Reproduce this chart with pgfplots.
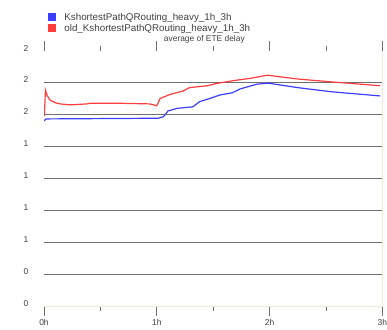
\documentclass[border=0pt]{standalone}
\usepackage{pgfplots}
\pgfplotsset{compat=1.18}
\usepackage{fontspec}
\setmainfont{Liberation Sans}
\definecolor{sblue}{RGB}{61,61,255}
\definecolor{sred}{RGB}{255,61,61}
\definecolor{gridc}{RGB}{112,112,112}
\definecolor{beige}{RGB}{236,233,216}
\definecolor{txt}{RGB}{64,64,64}
\begin{document}
\begin{tikzpicture}
\useasboundingbox (0,0) rectangle (387pt,329pt);
\begin{axis}[
  at={(44pt,23pt)}, anchor=south west,
  scale only axis, width=338.3pt, height=255.4pt,
  xmin=0, xmax=3, ymin=0, ymax=8,
  axis line style={draw=none},
  xtick={0,1,2,3}, xticklabels={0h,1h,2h,3h},
  minor x tick num=1,
  tick align=outside,
  xtick style={color=gridc, line width=0.6pt},
  major tick length=10pt, minor tick length=5pt,
  ytick={0,...,8}, yticklabels={0,0,1,1,1,1,2,2,2},
  ytick style={draw=none},
  extra y ticks={1,...,7}, extra y tick labels={},
  extra y tick style={grid=major, major grid style={color=gridc, line width=0.8pt}},
  ticklabel style={font=\fontsize{8.5}{9}\selectfont, text=txt},
  yticklabel style={xshift=-2pt, yshift=2.5pt},
  /pgf/number format/assume math mode=true,
  title={average of ETE delay},
  title style={at={(0.474,1)}, anchor=center, yshift=5.5pt, font=\fontsize{8.4}{9}\selectfont, text=txt},
  legend style={at={(0,1)}, anchor=north west, xshift=4pt, yshift=37.8pt,
    draw=none, fill=none, inner sep=0pt,
    nodes={inner sep=0pt, text height=7pt, text depth=2pt},
    row sep=2pt, column sep=8pt,
    font=\fontsize{9.8}{10}\selectfont, text=txt},
  legend cell align=left,
  legend image code/.code={\fill[#1] (0pt,-3pt) rectangle (7pt,3.5pt);},
  after end axis/.code={\draw[beige, line width=1pt] (rel axis cs:0,0) -- (rel axis cs:1,0) -- (rel axis cs:1,1);},
]
\addplot[sblue, line width=1.2pt] coordinates {
(0,5.80) (0.02,5.86) (0.5,5.87) (0.94,5.88) (1.01,5.88) (1.06,5.93) (1.10,6.11)
(1.18,6.19) (1.32,6.24) (1.38,6.40) (1.47,6.50) (1.56,6.61) (1.67,6.68)
(1.74,6.80) (1.83,6.89) (1.89,6.95) (1.99,6.98) (2.25,6.84) (2.55,6.71) (2.98,6.58)
};
\addlegendentry{KshortestPathQRouting\_heavy\_1h\_3h}
\addplot[sred, line width=1.2pt] coordinates {
(0.003,5.95) (0.013,6.76) (0.027,6.60) (0.053,6.45) (0.098,6.37) (0.142,6.33)
(0.23,6.30) (0.38,6.33) (0.41,6.35) (0.67,6.35) (0.94,6.33) (1.0,6.27)
(1.03,6.50) (1.12,6.63) (1.23,6.73) (1.29,6.84) (1.45,6.90) (1.53,6.97)
(1.68,7.06) (1.83,7.13) (1.98,7.23) (2.25,7.11) (2.55,7.02) (2.98,6.90)
};
\addlegendentry{old\_KshortestPathQRouting\_heavy\_1h\_3h}
\end{axis}
\end{tikzpicture}
\end{document}
